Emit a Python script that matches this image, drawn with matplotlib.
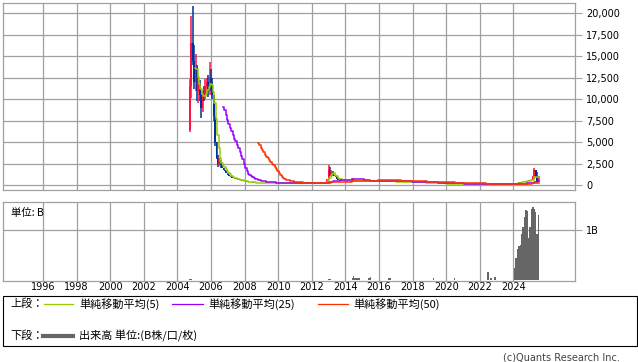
import matplotlib
matplotlib.use("Agg")
import matplotlib.pyplot as plt
from matplotlib.lines import Line2D
from matplotlib.patches import Rectangle
import numpy as np
import pandas as pd

# 月足データ (2004年10月から)
start_year = 2004.75
first_open = 6400

closes = [
    11500, 16500, 14500,                                                  # 2004 (10-12)
    12000, 13800, 11000, 11800, 10500, 9000, 10500, 10200, 11500, 12000, 11000, 12500,  # 2005
    12000, 10500, 8000, 5000, 3200, 2500, 2700, 2300, 2000, 1800, 1600, 1400,           # 2006
    1200, 1050, 950, 850, 780, 720, 660, 620, 580, 540, 500, 460,         # 2007
    430, 400, 380, 350, 330, 310, 290, 280, 270, 260, 250, 240,           # 2008
    240, 230, 230, 250, 260, 250, 240, 230, 230, 220, 220, 210,           # 2009
    210, 220, 230, 220, 210, 200, 200, 210, 200, 190, 190, 200,           # 2010
    210, 200, 190, 180, 190, 200, 190, 180, 180, 190, 180, 180,           # 2011
    190, 180, 180, 190, 200, 190, 180, 190, 200, 220, 300, 600,           # 2012
    1800, 1300, 1500, 1100, 1000, 900, 700, 600, 550, 520, 500, 500,      # 2013
    500, 520, 480, 500, 520, 550, 500, 480, 500, 520, 500, 480,           # 2014
    500, 520, 500, 480, 500, 520, 500, 480, 470, 460, 480, 470,           # 2015
    470, 460, 450, 450, 440, 440, 430, 430, 420, 420, 410, 410,           # 2016
    400, 400, 390, 390, 380, 380, 380, 370, 370, 360, 360, 350,           # 2017
    350, 340, 340, 330, 320, 320, 310, 300, 290, 280, 270, 260,           # 2018
    250, 240, 230, 220, 210, 200, 200, 190, 190, 180, 180, 170,           # 2019
    170, 160, 150, 150, 160, 160, 150, 150, 140, 140, 140, 130,           # 2020
    130, 130, 140, 130, 130, 120, 120, 120, 110, 110, 110, 100,           # 2021
    100, 100, 100, 100, 90, 90, 90, 90, 80, 80, 80, 80,                   # 2022
    80, 80, 80, 80, 80, 80, 90, 90, 100, 90, 90, 100,                     # 2023
    100, 180, 150, 200, 300, 280, 350, 400, 420, 500, 450, 600,           # 2024
    550, 700, 900, 1700, 1000, 500, 700,                                  # 2025 (1-7)
]

# ヒゲ (高値・安値) が実体からはみ出す月だけ
wick_hi = {0: 12400, 1: 19700, 2: 20800, 3: 16300, 4: 15300, 5: 14000, 6: 12800,
           7: 12200, 8: 11000, 9: 11000, 10: 11500, 11: 12300, 12: 12500, 13: 12800,
           14: 14300, 15: 13500, 16: 12500, 17: 10500, 18: 8000, 19: 5000, 20: 3500,
           21: 3200, 22: 2900, 98: 700, 99: 2300, 100: 2100, 101: 1800, 102: 1600,
           103: 1200, 116: 800, 245: 1100, 246: 2000, 247: 1750, 248: 1500, 249: 1100}
wick_lo = {0: 6200, 1: 10100, 2: 14000, 3: 11200, 4: 11000, 5: 9800, 6: 9500,
           7: 9800, 8: 7800, 9: 8500, 10: 9800, 11: 10000, 12: 10500, 13: 10200,
           14: 10500, 15: 11000, 16: 10000, 17: 7500, 18: 4500, 19: 3000, 20: 2100,
           21: 2200, 22: 2000, 99: 550, 100: 1100, 101: 1200, 102: 1000,
           246: 550, 247: 800, 248: 300, 249: 400}

# 出来高 (単位: B)
volumes = [
    0.02, 0.02, 0.015,                                                     # 2004
    0.015, 0.015, 0.015, 0.015, 0.015, 0.015, 0.015, 0.015, 0.015, 0.015, 0.015, 0.015,  # 2005
    0.015, 0.015, 0.015, 0.015, 0.015, 0.015, 0.015, 0.015, 0.015, 0.015, 0.015, 0.015,  # 2006
    0.015, 0.015, 0.015, 0.015, 0.015, 0.015, 0.015, 0.015, 0.015, 0.015, 0.015, 0.015,  # 2007
    0.015, 0.015, 0.015, 0.015, 0.015, 0.015, 0.015, 0.015, 0.015, 0.015, 0.015, 0.015,  # 2008
    0.015, 0.015, 0.015, 0.015, 0.015, 0.015, 0.015, 0.015, 0.015, 0.015, 0.015, 0.015,  # 2009
    0.015, 0.015, 0.015, 0.015, 0.015, 0.015, 0.015, 0.015, 0.015, 0.015, 0.015, 0.015,  # 2010
    0.015, 0.015, 0.015, 0.015, 0.015, 0.015, 0.015, 0.015, 0.015, 0.015, 0.015, 0.015,  # 2011
    0.015, 0.015, 0.015, 0.015, 0.015, 0.015, 0.015, 0.015, 0.015, 0.015, 0.015, 0.015,  # 2012
    0.02, 0.02, 0.015, 0.015, 0.015, 0.015, 0.015, 0.015, 0.015, 0.015, 0.015, 0.015,    # 2013
    0.015, 0.015, 0.015, 0.015, 0.015, 0.05, 0.08, 0.05, 0.04, 0.04, 0.04, 0.015,        # 2014
    0.015, 0.015, 0.015, 0.015, 0.015, 0.05, 0.06, 0.015, 0.015, 0.015, 0.015, 0.015,    # 2015
    0.015, 0.015, 0.015, 0.015, 0.015, 0.015, 0.015, 0.04, 0.04, 0.015, 0.015, 0.015,    # 2016
    0.015, 0.015, 0.015, 0.015, 0.015, 0.015, 0.015, 0.015, 0.015, 0.015, 0.015, 0.015,  # 2017
    0.015, 0.015, 0.015, 0.015, 0.015, 0.015, 0.015, 0.015, 0.015, 0.015, 0.015, 0.015,  # 2018
    0.015, 0.015, 0.015, 0.04, 0.015, 0.015, 0.015, 0.015, 0.015, 0.015, 0.015, 0.015,   # 2019
    0.015, 0.015, 0.015, 0.015, 0.015, 0.015, 0.04, 0.015, 0.015, 0.015, 0.015, 0.015,   # 2020
    0.015, 0.015, 0.015, 0.015, 0.015, 0.015, 0.015, 0.015, 0.015, 0.015, 0.015, 0.015,  # 2021
    0.015, 0.015, 0.015, 0.015, 0.015, 0.015, 0.16, 0.015, 0.05, 0.015, 0.015, 0.06,     # 2022
    0.015, 0.015, 0.015, 0.015, 0.015, 0.015, 0.015, 0.015, 0.015, 0.015, 0.015, 0.015,  # 2023
    0.015, 0.25, 0.44, 0.62, 0.68, 0.70, 0.93, 1.05, 1.25, 1.40, 1.38, 0.85,             # 2024
    1.05, 1.42, 1.45, 1.42, 1.35, 0.93, 1.30,                                            # 2025
]

year_ticks = list(range(1996, 2025, 2))
price_ticks = list(range(0, 20001, 2500))

RED = "#ff1040"
BLUE = "#003399"
GRID = "#a0a0a0"
JP = ["Noto Sans CJK JP", "DejaVu Sans"]

n = len(closes)
x = start_year + np.arange(n) / 12.0
c = np.array(closes, dtype=float)
o = np.concatenate([[first_open], c[:-1]])
hi = np.array([max(o[i], c[i], wick_hi.get(i, 0)) for i in range(n)])
lo = np.array([min(o[i], c[i], wick_lo.get(i, 1e9)) for i in range(n)])
col = [RED if c[i] >= o[i] else BLUE for i in range(n)]

s = pd.Series(c)
ma5 = s.rolling(5).mean()
ma25 = s.rolling(25).mean()
ma50 = s.rolling(50).mean()

fig = plt.figure(figsize=(6.38, 3.62), dpi=100)
W, H = 638.0, 362.0
ax1 = fig.add_axes([3 / W, 1 - 190 / H, 572 / W, 187 / H])
ax2 = fig.add_axes([3 / W, 1 - 281 / H, 572 / W, 79 / H])

xmin, xmax = 1993.62, 2027.67
for ax in (ax1, ax2):
    ax.set_xlim(xmin, xmax)
    ax.set_xticks(year_ticks)
    ax.grid(True, color=GRID, lw=0.9)
    ax.set_axisbelow(True)
    for sp in ax.spines.values():
        sp.set_color(GRID)
        sp.set_linewidth(0.9)
    ax.yaxis.tick_right()
    ax.tick_params(axis="y", direction="out", length=5, color=GRID, labelsize=7, pad=3)

# 上段: ローソク足 + 移動平均
ax1.vlines(x, lo, hi, colors=col, lw=1.1)
ax1.bar(x, np.abs(c - o), bottom=np.minimum(o, c), width=1 / 12 * 1.3, color=col, linewidth=0)
ax1.plot(x, ma5, color="#99cc00", lw=1.1, drawstyle="steps-mid")
ax1.plot(x, ma25, color="#9900ff", lw=1.1, drawstyle="steps-mid")
ax1.plot(x, ma50, color="#ff3300", lw=1.1, drawstyle="steps-mid")
ax1.set_ylim(-582, 21200)
ax1.set_yticks(price_ticks)
ax1.set_yticklabels([f"{v:,}" for v in price_ticks])
ax1.tick_params(axis="x", length=0, labelbottom=False)

# 下段: 出来高
ax2.bar(x, volumes, width=1 / 12, color="#666666", linewidth=0)
ax2.set_ylim(-0.01, 1.554)
ax2.set_yticks([1])
ax2.set_yticklabels(["1B"])
ax2.tick_params(axis="x", length=0, labelsize=7, pad=0.5)
ax2.text(8 / 572, 1 - 6 / 79, "単位: B", transform=ax2.transAxes, ha="left", va="top",
         fontsize=7.5, family=JP)

# 凡例
fig.patches.append(Rectangle((3 / W, 1 - 346 / H), 634 / W, 50 / H, transform=fig.transFigure,
                             fill=False, edgecolor="black", lw=0.8))
row1 = 1 - 304 / H
row2 = 1 - 336 / H
fig.text(10 / W, row1, "上段：", fontsize=8, family=JP, va="center")
fig.text(10 / W, row2, "下段：", fontsize=8, family=JP, va="center")
legend_items = [(44, 73, 79, "#99cc00", "単純移動平均(5)"),
                (172, 203, 208, "#9900ff", "単純移動平均(25)"),
                (318, 348, 353, "#ff3300", "単純移動平均(50)")]
for x0, x1, xt, lc, label in legend_items:
    fig.lines.append(Line2D([x0 / W, x1 / W], [row1, row1], transform=fig.transFigure, color=lc, lw=0.9))
    fig.text(xt / W, row1, label, fontsize=8, family=JP, va="center")
fig.lines.append(Line2D([43 / W, 73 / W], [row2, row2], transform=fig.transFigure, color="#666666", lw=3))
fig.text(79 / W, row2, "出来高 単位:(B株/口/枚)", fontsize=8, family=JP, va="center")

fig.text(620 / W, 1 - 357 / H, "(c)Quants Research Inc.", fontsize=7, color="#444444",
         ha="right", va="center")

fig.savefig("out.png", dpi=100)
